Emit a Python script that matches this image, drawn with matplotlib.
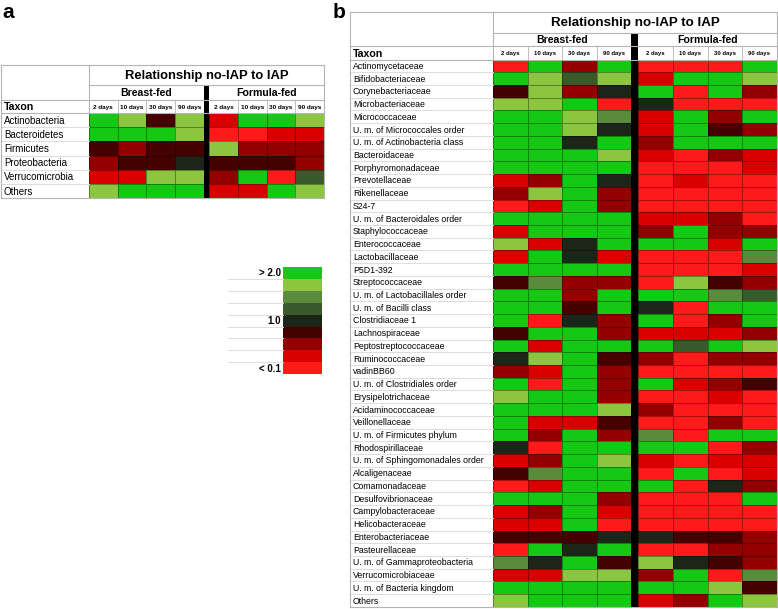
import numpy as np
import matplotlib.pyplot as plt
from matplotlib.colors import ListedColormap, BoundaryNorm

plt.rcParams['font.family'] = ['Liberation Sans', 'DejaVu Sans']

title = 'Relationship no-IAP to IAP'
groups = ['Breast-fed', 'Formula-fed']
days = ['2 days', '10 days', '30 days', '90 days']

# colour classes of the ratio, from "> 2.0" (top of the key) down to "< 0.1"
level_colors = ['#14c814', '#8cc641', '#5a8a3c', '#3b5a2b', '#1b2618',
                '#450000', '#930000', '#d80000', '#ff1a1a']
key_labels = {0: '> 2.0', 4: '1.0', 8: '< 0.1'}
# letter code used in the tables below -> colour class
code = {'G': 0, 'L': 1, 'M': 2, 'D': 3, 'K': 4, 'X': 5, 'R': 6, 'r': 7, 'B': 8}

# panel a: phyla
phyla = ['Actinobacteria', 'Bacteroidetes', 'Firmicutes', 'Proteobacteria',
         'Verrucomicrobia', 'Others']
phyla_bf = ['GLXL', 'GGGL', 'XRXX', 'RXXK', 'rrLL', 'LGGG']
phyla_ff = ['rGGL', 'BBrr', 'LRRR', 'XXXR', 'RGBD', 'rrGL']

# panel b: families
families = ['Actinomycetaceae', 'Bifidobacteriaceae', 'Corynebacteriaceae',
            'Microbacteriaceae', 'Micrococcaceae', 'U. m. of Micrococcales order',
            'U. m. of Actinobacteria class', 'Bacteroidaceae', 'Porphyromonadaceae',
            'Prevotellaceae', 'Rikenellaceae', 'S24-7', 'U. m. of Bacteroidales order',
            'Staphylococcaceae', 'Enterococcaceae', 'Lactobacillaceae', 'P5D1-392',
            'Streptococcaceae', 'U. m. of Lactobacillales order', 'U. m. of Bacilli class',
            'Clostridiaceae 1', 'Lachnospiraceae', 'Peptostreptococcaceae',
            'Ruminococcaceae', 'vadinBB60', 'U. m. of Clostridiales order',
            'Erysipelotrichaceae', 'Acidaminococcaceae', 'Veillonellaceae',
            'U. m. of Firmicutes phylum', 'Rhodospirillaceae',
            'U. m. of Sphingomonadales order', 'Alcaligenaceae', 'Comamonadaceae',
            'Desulfovibrionaceae', 'Campylobacteraceae', 'Helicobacteraceae',
            'Enterobacteriaceae', 'Pasteurellaceae', 'U. m. of Gammaproteobacteria',
            'Verrucomicrobiaceae', 'U. m. of Bacteria kingdom', 'Others']
families_bf = ['BGRG', 'GLDL', 'XLRK', 'LLGB', 'GGLM', 'GGLK', 'GGKG', 'GGGL',
               'GGGG', 'rRGK', 'RLGR', 'BrGR', 'GGGG', 'rGGG', 'LrKG', 'rGKr',
               'GGGG', 'XMRR', 'GGRG', 'GGXG', 'GBKR', 'XGGR', 'GrGG', 'KLGX',
               'RrGR', 'GBGR', 'LGGR', 'GGGL', 'GrrX', 'GRGR', 'KBGG', 'rRGL',
               'XMGG', 'BrGG', 'GGGR', 'rRGr', 'rrGB', 'XXXK', 'BGKG', 'MKGX',
               'rrLL', 'GGGG', 'LGGG']
families_ff = ['BBBG', 'rGGL', 'GBGR', 'KBBB', 'rGRG', 'rGXR', 'RGGG', 'rBRr',
               'BBBr', 'BrBB', 'BBBB', 'BBBB', 'rrRB', 'RGRR', 'GGrG', 'BBBM',
               'BBBr', 'BLXR', 'GGMD', 'KBGG', 'GBRG', 'rrrR', 'GDGL', 'RBRR',
               'BBBB', 'GrRX', 'BBrB', 'RBBB', 'BBRB', 'MBGG', 'GGBR', 'rBrr',
               'BGBr', 'GBKR', 'BBBG', 'BBBB', 'BBBB', 'KXXR', 'BBRR', 'LKXR',
               'RGBM', 'GGLX', 'rRGL']

cmap = ListedColormap(level_colors)
norm = BoundaryNorm(np.arange(-0.5, len(level_colors)), len(level_colors))
grid = '#b4b4b4'
light = '#dcdcdc'

fig = plt.figure(figsize=(7.78, 6.09), dpi=100)
ax = fig.add_axes([0, 0, 1, 1])
ax.set_xlim(0, 778)
ax.set_ylim(609, 0)
ax.axis('off')


def to_codes(rows):
    return np.array([[code[c] for c in row] for row in rows])


def draw_table(labels, bf, ff, x0, xc, cw, bar, top, h_title, h_group, h_day, rh,
               fs_lab, fs_title, fs_group, fs_day):
    n = len(labels)
    y_group = top + h_title
    y_day = y_group + h_group
    y_data = y_day + h_day
    y_end = y_data + n * rh
    x_ff = xc + 4 * cw + bar
    x_end = x_ff + 4 * cw
    ys = y_data + np.arange(n + 1) * rh

    # heat cells
    for xs0, rows in [(xc, bf), (x_ff, ff)]:
        xs = xs0 + np.arange(5) * cw
        ax.pcolormesh(xs, ys, to_codes(rows), cmap=cmap, norm=norm,
                      edgecolors=(0, 0, 0, 0.35), linewidth=0.6)

    # grid of the label column and header
    for y in ys[1:-1]:
        ax.plot([x0, xc], [y, y], color=light, lw=0.7)
    ax.plot([x0, x_end], [top, top], color=grid, lw=0.8)
    ax.plot([xc, x_end], [y_group, y_group], color=grid, lw=0.8)
    ax.plot([x0, x_end], [y_day, y_day], color=grid, lw=0.8)
    ax.plot([x0, x_end], [y_data, y_data], color=grid, lw=0.8)
    ax.plot([x0, x_end], [y_end, y_end], color=grid, lw=0.8)
    ax.plot([x0, x0], [top, y_end], color=grid, lw=0.8)
    ax.plot([xc, xc], [top, y_data], color=grid, lw=0.8)
    ax.plot([x_end, x_end], [top, y_end], color=grid, lw=0.8)
    for xs0 in (xc, x_ff):
        for k in range(1, 4):
            ax.plot([xs0 + k * cw] * 2, [y_day, y_data], color=grid, lw=0.6)

    # black divider between the two feeding groups
    ax.fill_between([xc + 4 * cw, x_ff], y_group, y_end, color='black', lw=0)

    # texts
    ax.text((xc + x_end) / 2, (top + y_group) / 2 + 0.5, title, ha='center',
            va='center', fontsize=fs_title, fontweight='bold')
    for gx, g in zip((xc, x_ff), groups):
        ax.text(gx + 2 * cw, (y_group + y_day) / 2 + 0.5, g, ha='center',
                va='center', fontsize=fs_group, fontweight='bold')
        for k, d in enumerate(days):
            ax.text(gx + (k + 0.5) * cw, (y_day + y_data) / 2 + 0.5, d,
                    ha='center', va='center', fontsize=fs_day, fontweight='bold')
    ax.text(x0 + 3, (y_day + y_data) / 2 + 1, 'Taxon', ha='left', va='center',
            fontsize=fs_group, fontweight='bold')
    for i, lab in enumerate(labels):
        ax.text(x0 + 3, (ys[i] + ys[i + 1]) / 2 + 0.5, lab, ha='left',
                va='center', fontsize=fs_lab)


draw_table(phyla, phyla_bf, phyla_ff, x0=1, xc=89, cw=28.7, bar=5.5, top=65,
           h_title=20, h_group=15, h_day=13, rh=14.2,
           fs_lab=7, fs_title=9.4, fs_group=7.6, fs_day=4.6)
draw_table(families, families_bf, families_ff, x0=350, xc=493, cw=34.6, bar=7,
           top=12, h_title=21, h_group=13, h_day=13.5, rh=12.73,
           fs_lab=6.3, fs_title=9.6, fs_group=7.6, fs_day=4.3)

# colour key
kx, ky, kw, kh = 283, 267, 39, 11.9
kys = ky + np.arange(len(level_colors) + 1) * kh
for y in kys[1:-1]:
    ax.plot([228, kx], [y, y], color=light, lw=0.7)
ax.pcolormesh([kx, kx + kw], kys, np.arange(len(level_colors)).reshape(-1, 1),
              cmap=cmap, norm=norm)
for k, lab in key_labels.items():
    ax.text(kx - 2, (kys[k] + kys[k + 1]) / 2 + 0.5, lab, ha='right', va='center',
            fontsize=7, fontweight='bold')

# panel letters
ax.text(2, 12, 'a', ha='left', va='center', fontsize=15, fontweight='bold')
ax.text(333, 12, 'b', ha='left', va='center', fontsize=15, fontweight='bold')

fig.savefig('out.png', dpi=100)
